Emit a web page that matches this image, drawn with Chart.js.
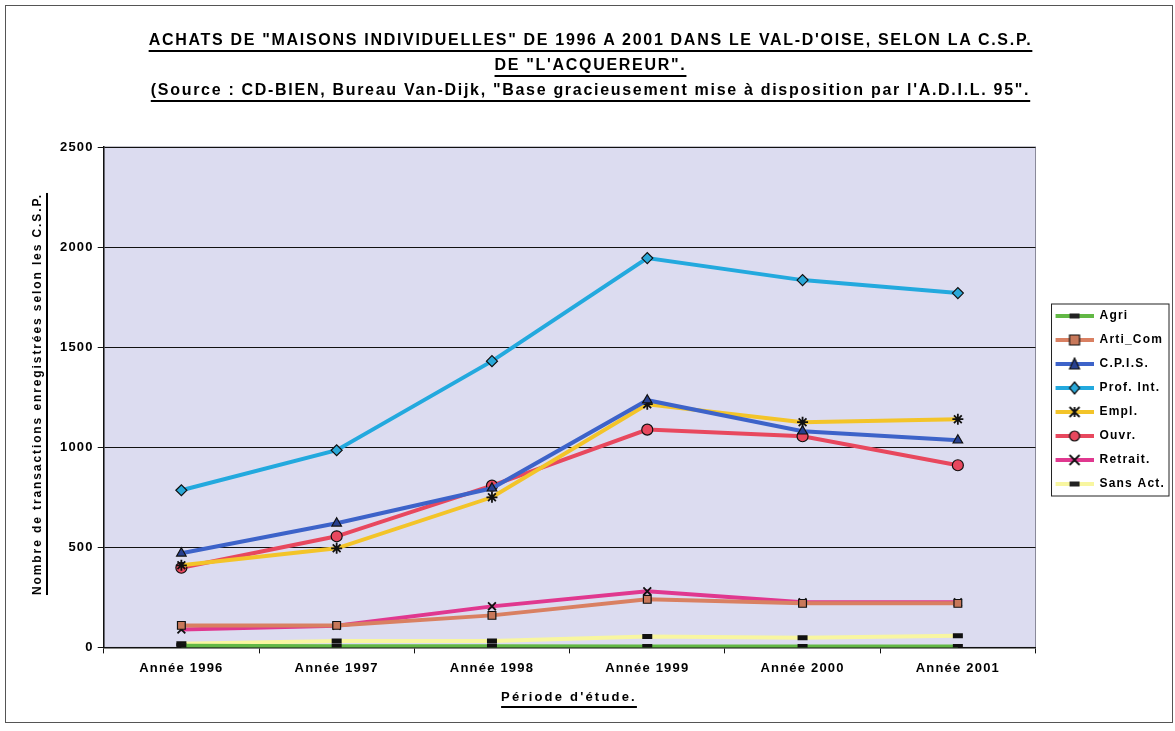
<!DOCTYPE html>
<html>
<head>
<meta charset="utf-8">
<script src="https://cdn.jsdelivr.net/npm/chart.js@4/dist/chart.umd.min.js"></script>
<style>
  body { margin: 0; background: #fff; }
  #wrap { position: relative; width: 1175px; height: 731px; font-family: "Liberation Sans", Arial, sans-serif; }
  #frame { position: absolute; left: 5px; top: 5px; width: 1168px; height: 718px; border: 1px solid #555; box-sizing: border-box; }
  #titles { position: absolute; top: 27px; left: 0; width: 1175px; text-align: center; font-weight: bold; font-size: 16px; letter-spacing: 1.7px; line-height: 25px; color: #000; }
  #titles div { margin-left: 6px; }
  #titles div span { text-decoration: underline; text-decoration-thickness: 2px; text-underline-offset: 5px; }
  #ytitle { position: absolute; left: 37px; top: 394px; transform: translate(-50%, -50%) rotate(-90deg); white-space: nowrap; font-weight: bold; font-size: 12px; letter-spacing: 1.9px; text-decoration: underline; text-decoration-thickness: 2px; text-underline-offset: 5px; }
  #xtitle { position: absolute; left: 0; width: 1138px; top: 689px; text-align: center; font-weight: bold; font-size: 13px; letter-spacing: 2.2px; }
  #xtitle span { text-decoration: underline; text-decoration-thickness: 2px; text-underline-offset: 5px; }
  canvas { position: absolute; left: 0; top: 0; }
</style>
</head>
<body>
<div id="wrap">
  <div id="frame"></div>
  <canvas id="chart" width="1175" height="731"></canvas>
  <div id="titles">
    <div><span>ACHATS DE "MAISONS INDIVIDUELLES" DE 1996 A 2001 DANS LE VAL-D'OISE, SELON LA C.S.P.</span></div>
    <div><span>DE "L'ACQUEREUR".</span></div>
    <div><span>(Source : CD-BIEN, Bureau Van-Dijk, "Base gracieusement mise à disposition par l'A.D.I.L. 95".</span></div>
  </div>
  <div id="ytitle">Nombre de transactions enregistrées selon les C.S.P.</div>
  <div id="xtitle"><span>Période d'étude.</span></div>
</div>
<script>
const categories = ['Année 1996', 'Année 1997', 'Année 1998', 'Année 1999', 'Année 2000', 'Année 2001'];

const agri = [8, 6, 6, 5, 5, 4];
const artiCom = [110, 110, 160, 240, 220, 220];
const cpis = [470, 620, 795, 1235, 1080, 1035];
const profInt = [785, 985, 1430, 1945, 1835, 1770];
const empl = [410, 495, 750, 1215, 1125, 1140];
const ouvr = [398, 555, 808, 1088, 1055, 910];
const retrait = [90, 108, 205, 280, 225, 225];
const sansAct = [18, 32, 32, 55, 48, 58];

const yTicks = [0, 500, 1000, 1500, 2000, 2500];

const series = [
  { label: 'Agri', data: agri, color: '#62b845', marker: 'dash', fill: '#222' },
  { label: 'Arti_Com', data: artiCom, color: '#d98062', marker: 'rect', fill: '#c8785a' },
  { label: 'C.P.I.S.', data: cpis, color: '#3d63c9', marker: 'triangle', fill: '#27408f' },
  { label: 'Prof. Int.', data: profInt, color: '#23a9de', marker: 'rectRot', fill: '#2aa8d8' },
  { label: 'Empl.', data: empl, color: '#f3c429', marker: 'star', fill: '#222' },
  { label: 'Ouvr.', data: ouvr, color: '#e8485e', marker: 'circle', fill: '#e8485e' },
  { label: 'Retrait.', data: retrait, color: '#e0388f', marker: 'crossRot', fill: '#222' },
  { label: 'Sans Act.', data: sansAct, color: '#f8f6a0', marker: 'dash', fill: '#222' },
];

const ICON_GAP = 8;     // empty room left of each legend line
const LEGEND_SHIFT = -15;

// small line+marker picture used in the legend
const drawMarker = (ctx, style, x, y, r, fill) => {
  ctx.save();
  ctx.fillStyle = fill;
  ctx.strokeStyle = '#111';
  ctx.lineWidth = 1.2;
  ctx.beginPath();
  if (style === 'dash') {
    ctx.fillRect(x - 5, y - 2.5, 10, 5);
  } else if (style === 'rect') {
    ctx.rect(x - r, y - r, 2 * r, 2 * r);
    ctx.fill(); ctx.stroke();
  } else if (style === 'triangle') {
    ctx.moveTo(x, y - r - 1);
    ctx.lineTo(x + r, y + r);
    ctx.lineTo(x - r, y + r);
    ctx.closePath();
    ctx.fill(); ctx.stroke();
  } else if (style === 'rectRot') {
    ctx.moveTo(x, y - r - 1);
    ctx.lineTo(x + r, y);
    ctx.lineTo(x, y + r + 1);
    ctx.lineTo(x - r, y);
    ctx.closePath();
    ctx.fill(); ctx.stroke();
  } else if (style === 'circle') {
    ctx.arc(x, y, r, 0, Math.PI * 2);
    ctx.fill(); ctx.stroke();
  } else if (style === 'star') {
    ctx.lineWidth = 1.8;
    ctx.moveTo(x - r, y - r); ctx.lineTo(x + r, y + r);
    ctx.moveTo(x + r, y - r); ctx.lineTo(x - r, y + r);
    ctx.moveTo(x, y - r); ctx.lineTo(x, y + r);
    ctx.stroke();
  } else if (style === 'crossRot') {
    ctx.lineWidth = 1.8;
    ctx.moveTo(x - r, y - r); ctx.lineTo(x + r, y + r);
    ctx.moveTo(x + r, y - r); ctx.lineTo(x - r, y + r);
    ctx.stroke();
  }
  ctx.restore();
};

const legendIcon = (s) => {
  const c = document.createElement('canvas');
  c.width = 38 + ICON_GAP;
  c.height = 14;
  const ctx = c.getContext('2d');
  ctx.strokeStyle = s.color;
  ctx.lineWidth = 4;
  ctx.beginPath();
  ctx.moveTo(ICON_GAP, 7);
  ctx.lineTo(38 + ICON_GAP, 7);
  ctx.stroke();
  drawMarker(ctx, s.marker, ICON_GAP + 19, 7, 5, s.fill);
  return c;
};

const chartStyle = (m) => (m === 'dash' ? 'line' : m);

// spaced-out lettering like the scanned original
const letterSpacing = {
  id: 'letterSpacing',
  beforeInit(chart) { chart.ctx.letterSpacing = '1.2px'; },
  beforeLayout(chart) { chart.ctx.letterSpacing = '1.2px'; },
  afterLayout(chart) {
    chart.legend.top += LEGEND_SHIFT;
    chart.legend.bottom += LEGEND_SHIFT;
  },
  beforeDraw(chart) { chart.ctx.letterSpacing = '1.2px'; },
};

const plotBackground = {
  id: 'plotBackground',
  beforeDraw(chart) {
    const { ctx, chartArea: a } = chart;
    ctx.save();
    ctx.fillStyle = '#dcdcf0';
    ctx.fillRect(a.left, a.top, a.right - a.left, a.bottom - a.top);
    ctx.strokeStyle = '#8a8a9a';
    ctx.lineWidth = 1;
    ctx.strokeRect(a.left, a.top, a.right - a.left, a.bottom - a.top);
    ctx.restore();
  },
};

const legendBorder = {
  id: 'legendBorder',
  afterDraw(chart) {
    const boxes = chart.legend.legendHitBoxes;
    if (!boxes || !boxes.length) return;
    const left = Math.min(...boxes.map(b => b.left)) + ICON_GAP - 4;
    const top = Math.min(...boxes.map(b => b.top)) - 6;
    const right = Math.max(...boxes.map(b => b.left + b.width)) + 4;
    const bottom = Math.max(...boxes.map(b => b.top + b.height)) + 6;
    const { ctx } = chart;
    ctx.save();
    ctx.strokeStyle = '#222';
    ctx.lineWidth = 1;
    ctx.strokeRect(left, top, right - left, bottom - top);
    ctx.restore();
  },
};

const data = {
  labels: categories,
  datasets: series.map(s => ({
    label: s.label,
    data: s.data,
    borderColor: s.color,
    backgroundColor: s.color,
    borderWidth: 4,
    tension: 0,
    pointStyle: chartStyle(s.marker),
    pointRadius: s.marker === 'dash' ? 5 : 5.5,
    pointBackgroundColor: s.fill,
    pointBorderColor: '#111',
    pointBorderWidth: s.marker === 'dash' ? 5 : (s.marker === 'star' || s.marker === 'crossRot' ? 1.8 : 1.2),
    legendIcon: legendIcon(s),
  })),
};

const config = {
  type: 'line',
  data: data,
  options: {
    responsive: false,
    animation: false,
    layout: {
      padding: { left: 56, top: 147, right: 0, bottom: 48 },
    },
    scales: {
      x: {
        offset: true,
        grid: {
          offset: true,
          drawOnChartArea: false,
          drawTicks: true,
          tickLength: 6,
          color: '#111',
        },
        border: { color: '#111', width: 1.5 },
        ticks: {
          color: '#000',
          padding: 7,
          font: { family: 'Liberation Sans', size: 13, weight: 'bold' },
        },
      },
      y: {
        min: 0,
        max: 2500,
        afterBuildTicks: (axis) => {
          axis.ticks = yTicks.map(v => ({ value: v }));
        },
        grid: {
          color: '#111',
          lineWidth: 1,
          tickLength: 6,
        },
        border: { color: '#111', width: 1.5 },
        ticks: {
          color: '#000',
          padding: 4,
          callback: (v) => String(v),
          font: { family: 'Liberation Sans', size: 13, weight: 'bold' },
        },
      },
    },
    plugins: {
      legend: {
        position: 'right',
        labels: {
          usePointStyle: true,
          pointStyleWidth: 38 + ICON_GAP,
          padding: 12,
          color: '#000',
          font: { family: 'Liberation Sans', size: 12, weight: 'bold' },
          generateLabels: (chart) => chart.data.datasets.map((ds, i) => ({
            text: ds.label,
            pointStyle: ds.legendIcon,
            fillStyle: ds.borderColor,
            strokeStyle: ds.borderColor,
            lineWidth: 0,
            hidden: false,
            datasetIndex: i,
          })),
        },
      },
      tooltip: { enabled: false },
    },
  },
  plugins: [letterSpacing, plotBackground, legendBorder],
};

new Chart(document.getElementById('chart'), config);
</script>
</body>
</html>
